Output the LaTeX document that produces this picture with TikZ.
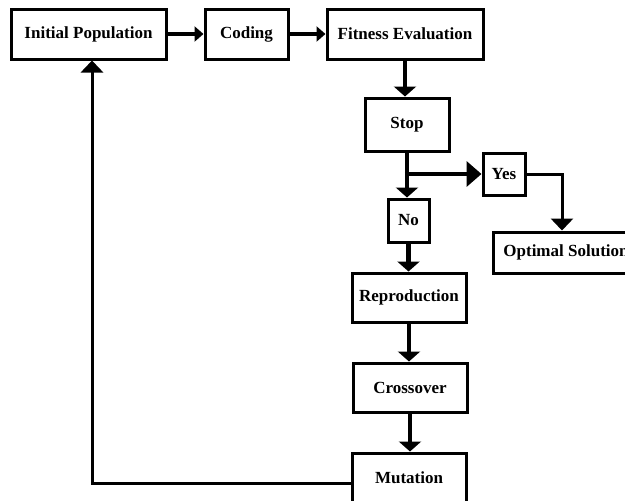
\documentclass[tikz,border=0pt]{standalone}
\usepackage{fontspec}
\setmainfont{Liberation Serif}
\usetikzlibrary{arrows.meta}
\begin{document}
\begin{tikzpicture}[x=1pt,y=-1pt,
  stepbox/.style={draw, line width=3pt, inner sep=0pt, align=center,
    font=\fontsize{17}{20}\selectfont\bfseries},
  flow/.style={line width=4.5pt, -{Triangle[length=10pt,width=22pt]}},
  sideflow/.style={line width=4.5pt, -{Triangle[length=9pt,width=15pt]}},
  thinflow/.style={line width=3pt, -{Triangle[length=12pt,width=22pt]}},
  bigflow/.style={line width=4.5pt, -{Triangle[length=15pt,width=25pt]}}]
\useasboundingbox (0,0) rectangle (625,501);
\clip (0,0) rectangle (625,501);

% process boxes
\node[stepbox, minimum width=155pt, minimum height=50pt] (init)  at (88.5,34) {Initial Population};
\node[stepbox, minimum width=83pt,  minimum height=50pt] (coding) at (246.5,34) {Coding};
\node[stepbox, minimum width=156pt, minimum height=50pt] (fit)   at (405,34) {Fitness Evaluation};
\node[stepbox, minimum width=84pt,  minimum height=53pt] (stop)  at (407,124.5) {Stop};
\node[stepbox, minimum width=42pt,  minimum height=42pt] (yes)   at (504,174) {Yes};
\node[stepbox, minimum width=41pt,  minimum height=43pt] (no)    at (408.5,220.5) {No};
\node[stepbox, minimum width=146pt, minimum height=41pt] (opt)   at (566,252.5) {Optimal Solution};
\node[stepbox, minimum width=114pt, minimum height=49pt] (repro) at (409,297.5) {Reproduction};
\node[stepbox, minimum width=114pt, minimum height=49pt] (cross) at (410,387.5) {Crossover};
\node[stepbox, minimum width=114pt, minimum height=50pt] (mut)   at (409,478) {Mutation};

% connectors
\draw[sideflow] (init) -- (coding);
\draw[sideflow] (coding) -- (fit);
\draw[flow] (fit.south) -- (fit.south |- stop.north);
\coordinate (br) at (stop.south |- yes.west);
\draw[flow] (stop.south) -- (stop.south |- no.north);
\draw[bigflow] ([xshift=-2.25pt]br) -- (yes.west);
\draw[thinflow] (yes.east) -| ([xshift=-4pt]opt.north);
\draw[flow] (no.south) -- (no.south |- repro.north);
\draw[flow] (repro.south) -- (repro.south |- cross.north);
\draw[flow] (cross.south) -- (cross.south |- mut.north);
\coordinate (fb) at (92,483);
\draw[thinflow] (mut.west |- fb) -- (fb) -- (fb |- init.south);
\end{tikzpicture}
\end{document}
